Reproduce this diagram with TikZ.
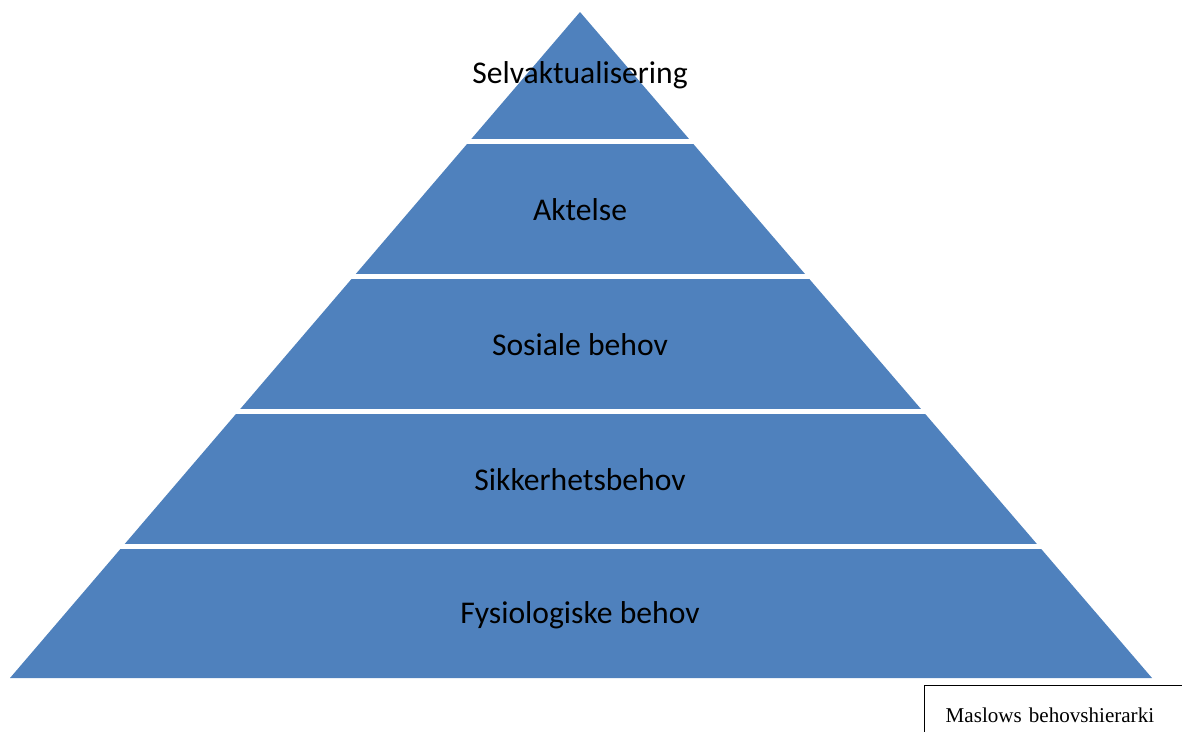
\documentclass[tikz,border=0pt]{standalone}
\usepackage{fontspec}
\setmainfont{Carlito}
\newfontfamily\capfont{Liberation Serif}
\definecolor{pyrblue}{HTML}{4F81BD}

\begin{document}
\begin{tikzpicture}[x=0.02cm,y=-0.02cm,
  level/.style = {font=\fontsize{18}{21}\selectfont},
  gap/.style = {draw=white, line width=0.1cm},
  caption/.style = {draw, line width=0.8pt, anchor=north west, minimum width=5.4cm, minimum height=1.2cm, text width=4.56cm, align=left, inner xsep=0.42cm, font=\capfont\fontsize{12}{14}\selectfont},
  node distance={2.7cm}]
\useasboundingbox (0,0) rectangle (1182,731);
\fill[pyrblue] (580,12) -- (1152,678) -- (10,678) -- cycle;
\foreach \y in {141.5,276.5,411.5,546.5}
  \draw[gap] (0,\y) -- (1182,\y);
\node[level] (selv) at (580,75) {Selvaktualisering};
\node[level] (akt) [below of=selv] {Aktelse};
\node[level] (sos) [below of=akt] {Sosiale behov};
\node[level] (sikk) [below of=sos] {Sikkerhetsbehov};
\node[level] (fys) [below of=sikk] {Fysiologiske behov};
\node[caption] (cap) at (924,685) {Maslows behovshierarki};
\end{tikzpicture}
\end{document}
